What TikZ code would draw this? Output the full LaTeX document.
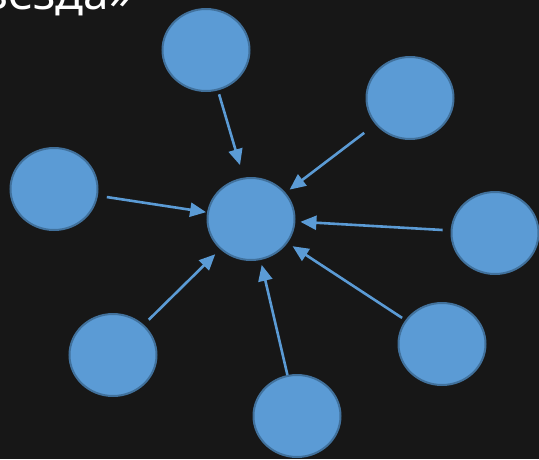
\documentclass[tikz,border=0pt]{standalone}
\usepackage{fontspec}
\setmainfont{Noto Sans}
\usepackage{tikz}
\usetikzlibrary{arrows.meta, shapes.geometric}
\definecolor{bgdark}{HTML}{171717}
\definecolor{pcfill}{HTML}{5B9BD5}
\definecolor{pcedge}{HTML}{41719C}

\begin{document}
\begin{tikzpicture}[
    x=1pt, y=-1pt,
    pc/.style={ellipse, draw=pcedge, line width=2pt, fill=pcfill, minimum width=87pt, minimum height=82pt, inner sep=0pt},
    link/.style={-{Triangle[length=16pt, width=14pt]}, line width=2.6pt, color=pcfill},
    title/.style={font=\fontsize{46}{46}\selectfont, text=white, inner sep=0pt}
]
\useasboundingbox (0,0) rectangle (539,459);
\fill[bgdark] (0,0) rectangle (539,459);

\node[title, anchor=base east] (head) at (133,9) {звезда»};

\node[pc] (hub) at (251,219) {};
\node[pc] (pc1) at (206,50) {};
\node[pc] (pc2) at (410,98) {};
\node[pc] (pc3) at (495,233) {};
\node[pc] (pc4) at (442,344) {};
\node[pc] (pc5) at (297,416) {};
\node[pc] (pc6) at (113,355) {};
\node[pc] (pc7) at (54,189) {};

\draw[link, shorten <=4pt, shorten >=13pt] (pc1) -- (hub.100);
\draw[link, shorten <=14pt, shorten >=5pt] (pc2) -- (hub);
\draw[link, shorten <=8pt, shorten >=5pt] (pc3) -- (hub);
\draw[link, shorten <=4pt, shorten >=6pt] (pc4) -- (hub);
\draw[link, shorten >=5pt] (pc5) -- (hub);
\draw[link, shorten <=7pt, shorten >=7pt] (pc6) -- (hub);
\draw[link, shorten <=9pt, shorten >=1pt] (pc7) -- (hub);
\end{tikzpicture}
\end{document}
